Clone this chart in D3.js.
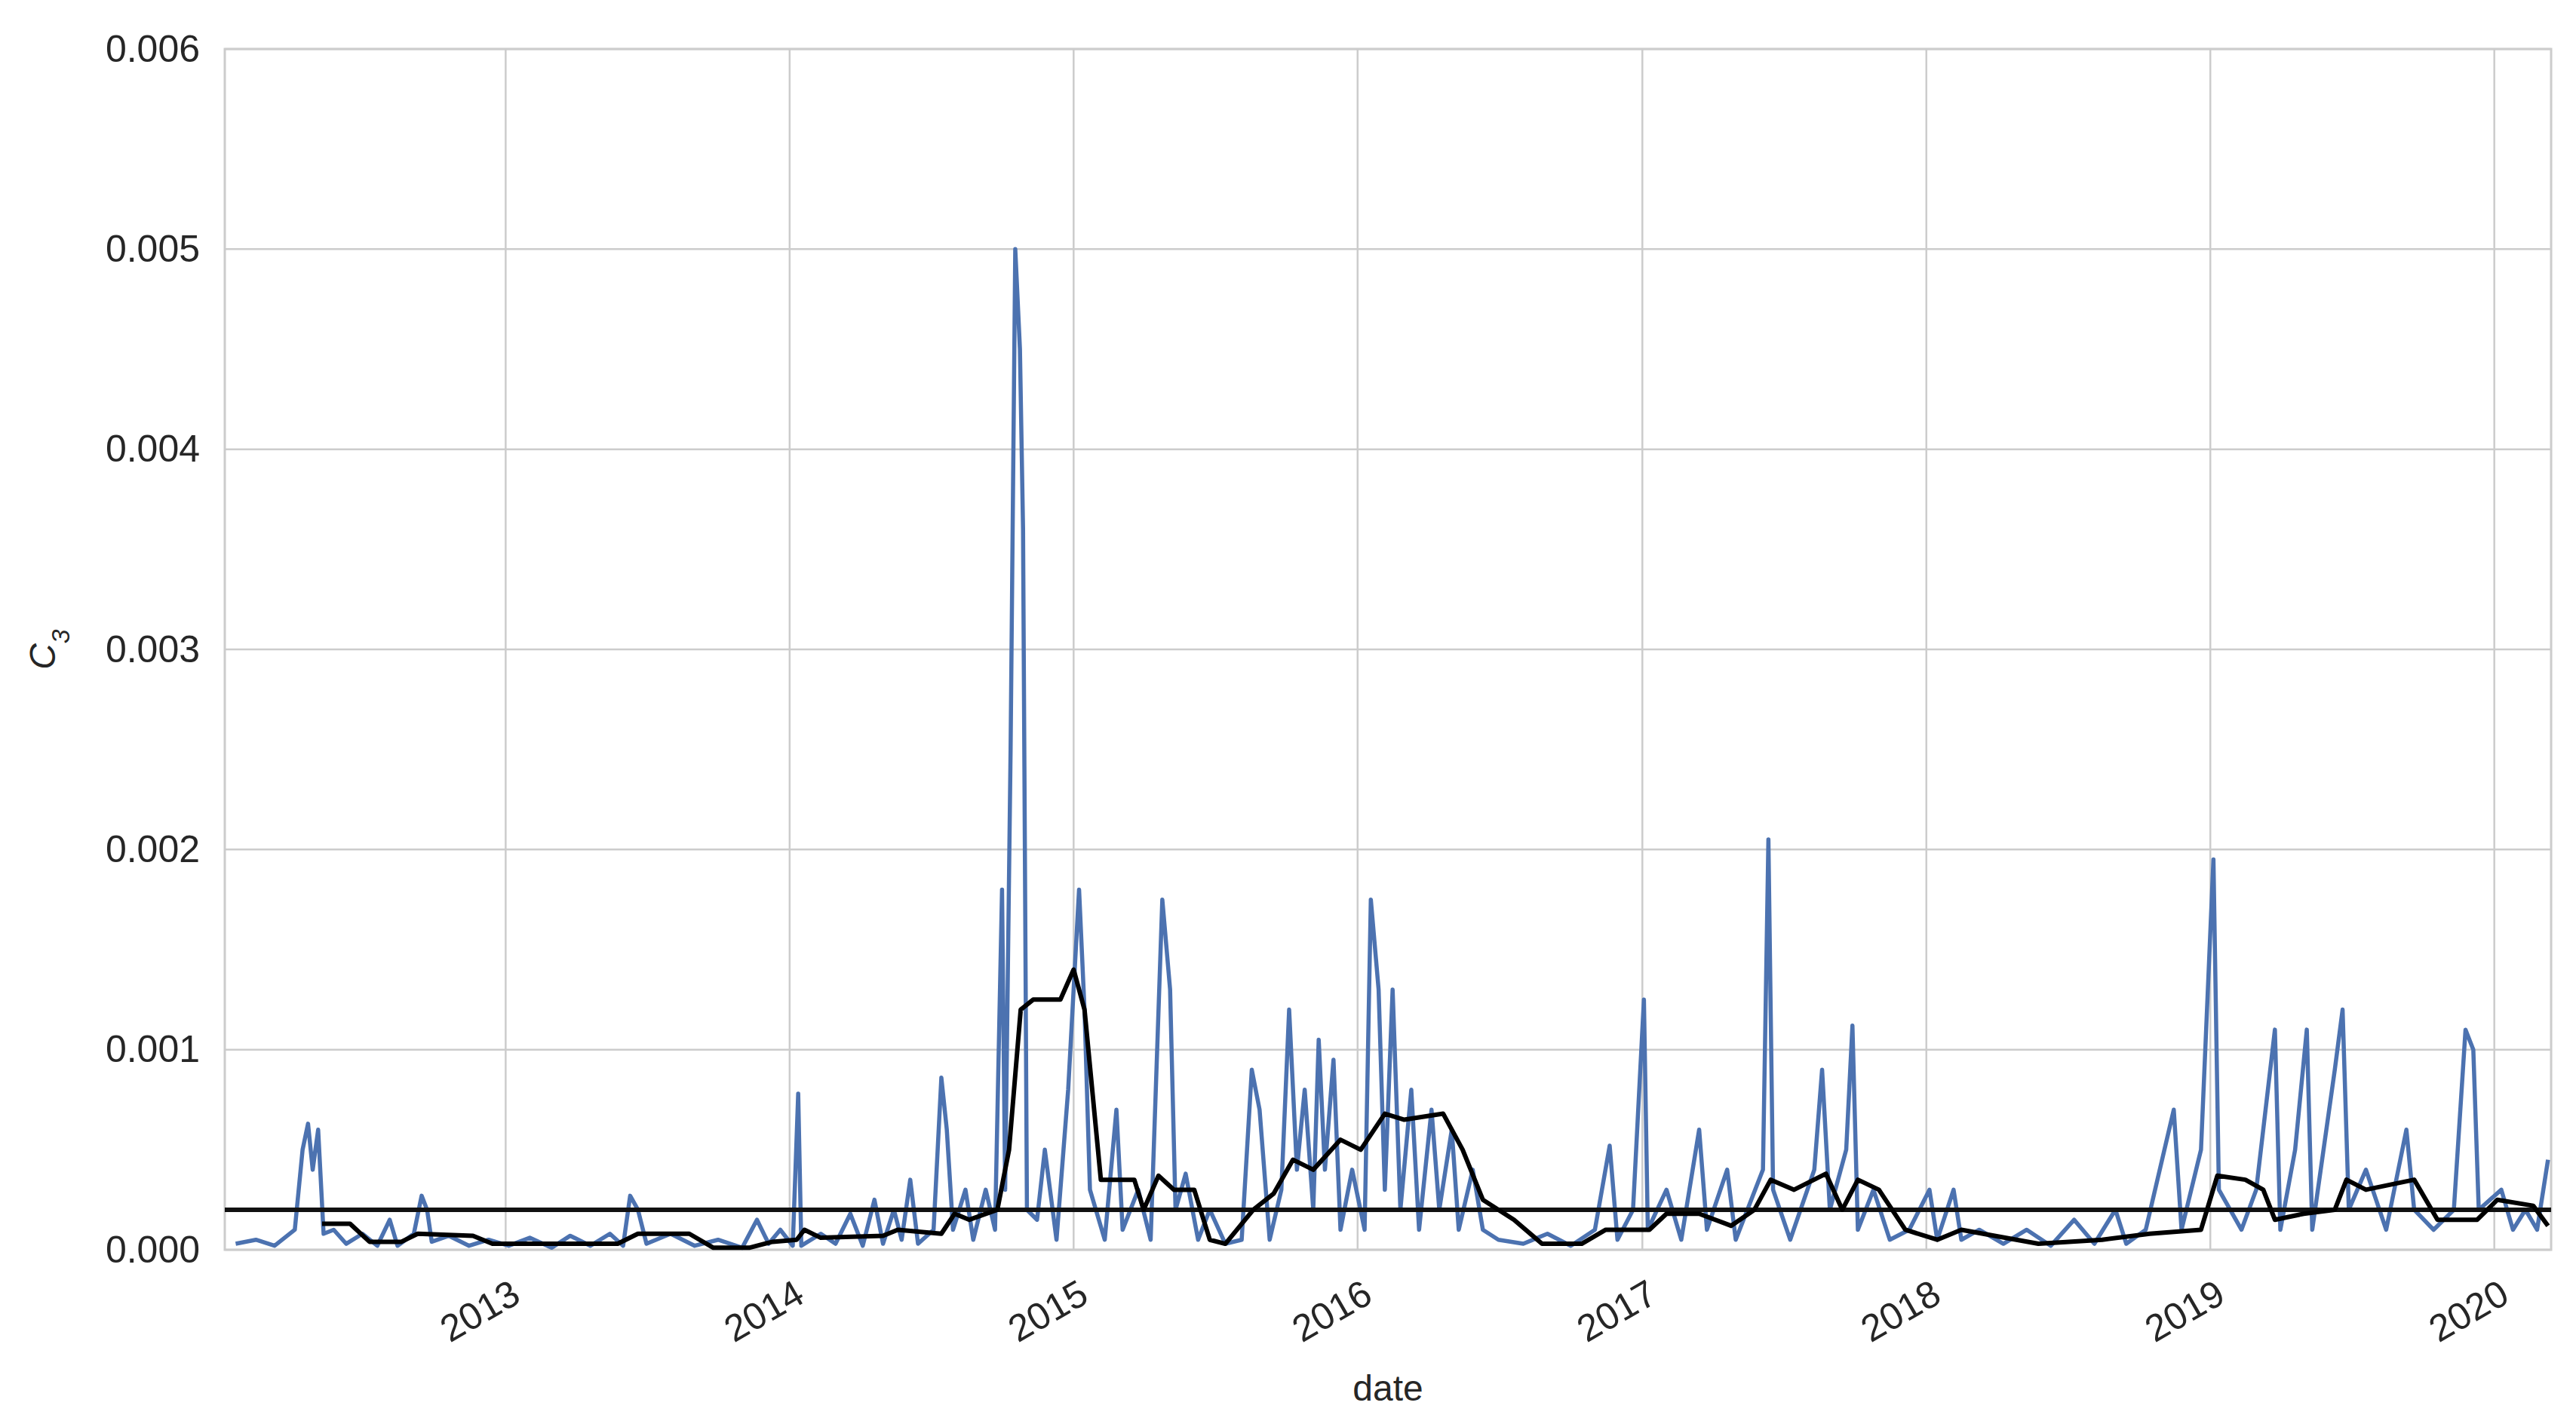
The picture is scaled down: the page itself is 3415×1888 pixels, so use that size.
<!DOCTYPE html>
<html>
<head>
<meta charset="utf-8">
<script src="https://cdn.jsdelivr.net/npm/d3@7"></script>
<style>
  body { margin: 0; background: #fff; }
  text { font-family: "Liberation Sans", Arial, sans-serif; fill: #262626; }
</style>
</head>
<body>
<div id="chart"></div>
<script>
// C3 series (date, value)
const c3Dates = ["2012-01-20","2012-02-15","2012-03-10","2012-04-05","2012-04-15","2012-04-22","2012-04-28","2012-05-05","2012-05-12","2012-05-25","2012-06-10","2012-07-01","2012-07-20","2012-08-05","2012-08-15","2012-09-05","2012-09-15","2012-09-22","2012-09-28","2012-10-20","2012-11-15","2012-12-10","2013-01-05","2013-02-01","2013-03-01","2013-03-25","2013-04-20","2013-05-15","2013-06-01","2013-06-10","2013-06-20","2013-07-01","2013-08-01","2013-09-01","2013-10-01","2013-11-01","2013-11-20","2013-12-05","2013-12-20","2014-01-05","2014-01-12","2014-01-16","2014-02-10","2014-03-01","2014-03-20","2014-04-05","2014-04-20","2014-05-01","2014-05-15","2014-05-25","2014-06-05","2014-06-15","2014-07-05","2014-07-15","2014-07-22","2014-07-30","2014-08-15","2014-08-25","2014-09-10","2014-09-22","2014-10-01","2014-10-05","2014-10-12","2014-10-18","2014-10-24","2014-10-28","2014-11-02","2014-11-15","2014-11-25","2014-12-10","2014-12-25","2015-01-08","2015-01-15","2015-01-22","2015-02-10","2015-02-25","2015-03-05","2015-03-25","2015-04-10","2015-04-25","2015-05-05","2015-05-12","2015-05-25","2015-06-10","2015-06-25","2015-07-15","2015-08-05","2015-08-18","2015-08-28","2015-09-10","2015-09-25","2015-10-05","2015-10-15","2015-10-25","2015-11-05","2015-11-12","2015-11-20","2015-12-01","2015-12-10","2015-12-25","2016-01-10","2016-01-18","2016-01-28","2016-02-05","2016-02-15","2016-02-25","2016-03-10","2016-03-20","2016-04-05","2016-04-15","2016-05-01","2016-05-10","2016-05-28","2016-06-10","2016-06-30","2016-08-01","2016-09-01","2016-10-01","2016-11-01","2016-11-20","2016-11-30","2016-12-20","2017-01-03","2017-01-08","2017-02-01","2017-02-20","2017-03-15","2017-03-25","2017-04-20","2017-05-01","2017-06-05","2017-06-12","2017-06-18","2017-07-10","2017-08-10","2017-08-20","2017-08-30","2017-09-20","2017-09-28","2017-10-05","2017-10-25","2017-11-15","2017-12-10","2018-01-05","2018-01-15","2018-02-05","2018-02-15","2018-03-10","2018-04-10","2018-05-10","2018-06-10","2018-07-10","2018-08-05","2018-09-01","2018-09-15","2018-10-10","2018-11-15","2018-11-25","2018-12-20","2019-01-05","2019-01-12","2019-02-10","2019-03-01","2019-03-25","2019-04-01","2019-04-20","2019-05-05","2019-05-12","2019-06-10","2019-06-20","2019-06-28","2019-07-20","2019-08-15","2019-09-10","2019-09-20","2019-10-15","2019-11-10","2019-11-25","2019-12-05","2019-12-12","2020-01-10","2020-01-25","2020-02-10","2020-02-25","2020-03-10"];
const c3Values = [0.00003,0.00005,0.00002,0.0001,0.0005,0.00063,0.0004,0.0006,0.00008,0.0001,0.00003,0.00008,0.00002,0.00015,0.00002,0.00008,0.00027,0.0002,0.00004,0.00007,0.00002,0.00005,0.00002,0.00006,0.00001,0.00007,0.00002,0.00008,0.00002,0.00027,0.0002,0.00003,0.00008,0.00002,0.00005,0.00001,0.00015,0.00003,0.0001,0.00002,0.00078,0.00002,0.00008,0.00003,0.00018,0.00002,0.00025,0.00003,0.0002,0.00005,0.00035,0.00003,0.0001,0.00086,0.0006,0.0001,0.0003,0.00005,0.0003,0.0001,0.0018,0.0003,0.0025,0.005,0.0045,0.0036,0.0002,0.00015,0.0005,0.00005,0.0008,0.0018,0.0012,0.0003,0.00005,0.0007,0.0001,0.0003,0.00005,0.00175,0.0013,0.0002,0.00038,0.00005,0.0002,0.00003,0.00005,0.0009,0.0007,0.00005,0.0003,0.0012,0.0004,0.0008,0.0002,0.00105,0.0004,0.00095,0.0001,0.0004,0.0001,0.00175,0.0013,0.0003,0.0013,0.0002,0.0008,0.0001,0.0007,0.0002,0.0006,0.0001,0.0004,0.0001,0.00005,0.00003,0.00008,0.00002,0.0001,0.00052,0.00005,0.0002,0.00125,0.0001,0.0003,0.00005,0.0006,0.0001,0.0004,0.00005,0.0004,0.00205,0.0003,0.00005,0.0004,0.0009,0.0002,0.0005,0.00112,0.0001,0.0003,0.00005,0.0001,0.0003,0.00005,0.0003,0.00005,0.0001,0.00003,0.0001,0.00002,0.00015,0.00003,0.0002,0.00003,0.0001,0.0007,0.0001,0.0005,0.00195,0.0003,0.0001,0.0003,0.0011,0.0001,0.0005,0.0011,0.0001,0.0009,0.0012,0.0002,0.0004,0.0001,0.0006,0.0002,0.0001,0.0002,0.0011,0.001,0.0002,0.0003,0.0001,0.0002,0.0001,0.00045];

// rolling mean (black)
const meanDates = ["2012-05-10","2012-06-15","2012-07-10","2012-08-20","2012-09-10","2012-11-20","2012-12-15","2013-05-25","2013-06-20","2013-08-25","2013-09-25","2013-11-10","2013-12-10","2014-01-10","2014-01-20","2014-02-10","2014-05-01","2014-05-20","2014-07-15","2014-08-01","2014-08-20","2014-09-25","2014-10-10","2014-10-25","2014-11-10","2014-12-15","2015-01-01","2015-01-15","2015-02-05","2015-03-20","2015-04-01","2015-04-20","2015-05-10","2015-06-05","2015-06-25","2015-07-15","2015-08-20","2015-09-15","2015-10-10","2015-11-05","2015-12-10","2016-01-05","2016-02-05","2016-03-01","2016-04-20","2016-05-15","2016-06-10","2016-07-20","2016-08-25","2016-10-15","2016-11-15","2017-01-10","2017-02-01","2017-03-15","2017-04-25","2017-05-25","2017-06-15","2017-07-15","2017-08-25","2017-09-15","2017-10-05","2017-11-01","2017-12-05","2018-01-15","2018-02-15","2018-03-15","2018-05-25","2018-08-15","2018-10-15","2018-12-20","2019-01-10","2019-02-15","2019-03-10","2019-03-25","2019-05-01","2019-06-10","2019-06-25","2019-07-20","2019-09-20","2019-10-20","2019-12-10","2020-01-05","2020-02-20","2020-03-10"];
const meanValues = [0.00013,0.00013,0.00004,0.00004,0.00008,0.00007,0.00003,0.00003,0.00008,0.00008,0.00001,0.00001,0.00004,0.00005,0.0001,0.00006,0.00007,0.0001,0.00008,0.00018,0.00015,0.0002,0.0005,0.0012,0.00125,0.00125,0.0014,0.0012,0.00035,0.00035,0.0002,0.00037,0.0003,0.0003,0.00005,0.00003,0.0002,0.00028,0.00045,0.0004,0.00055,0.0005,0.00068,0.00065,0.00068,0.0005,0.00025,0.00015,0.00003,0.00003,0.0001,0.0001,0.00018,0.00018,0.00012,0.0002,0.00035,0.0003,0.00038,0.0002,0.00035,0.0003,0.0001,0.00005,0.0001,0.00008,0.00003,0.00005,0.00008,0.0001,0.00037,0.00035,0.0003,0.00015,0.00018,0.0002,0.00035,0.0003,0.00035,0.00015,0.00015,0.00025,0.00022,0.00012];

const threshold = 0.0002;
const yTicks = [0, 0.001, 0.002, 0.003, 0.004, 0.005, 0.006];
const xTickYears = [2013, 2014, 2015, 2016, 2017, 2018, 2019, 2020];

const W = 3415, H = 1888;
const margin = { top: 65, right: 33, bottom: 231, left: 298 };
const width = W - margin.left - margin.right;
const height = H - margin.top - margin.bottom;
const parse = d3.timeParse("%Y-%m-%d");

const svg = d3.select('#chart').append('svg')
  .attr('width', W).attr('height', H)
  .append('g')
  .attr('transform', `translate(${margin.left},${margin.top})`);

const x = d3.scaleTime()
  .domain([parse("2012-01-06"), parse("2020-03-14")])
  .range([0, width]);
const y = d3.scaleLinear().domain([0, 0.006]).range([height, 0]);

// grid
svg.append('g').selectAll('line.v')
  .data(xTickYears).enter().append('line')
  .attr('x1', d => x(new Date(d, 0, 1))).attr('x2', d => x(new Date(d, 0, 1)))
  .attr('y1', 0).attr('y2', height)
  .attr('stroke', '#cccccc').attr('stroke-width', 2.5);
svg.append('g').selectAll('line.h')
  .data(yTicks).enter().append('line')
  .attr('x1', 0).attr('x2', width)
  .attr('y1', d => y(d)).attr('y2', d => y(d))
  .attr('stroke', '#cccccc').attr('stroke-width', 2.5);
svg.append('rect').attr('width', width).attr('height', height)
  .attr('fill', 'none').attr('stroke', '#cccccc').attr('stroke-width', 3);

// y axis labels
const yAxis = svg.append('g')
  .call(d3.axisLeft(y).tickValues(yTicks).tickFormat(d3.format('.3f')).tickSize(0).tickPadding(33));
yAxis.select('.domain').remove();
yAxis.selectAll('text').style('font-size', '50px').attr('fill', '#262626');

// x axis labels
const xAxis = svg.append('g')
  .attr('transform', `translate(0,${height})`)
  .call(d3.axisBottom(x).tickValues(xTickYears.map(d => new Date(d, 0, 1)))
    .tickFormat(d3.timeFormat('%Y')).tickSize(0).tickPadding(20));
xAxis.select('.domain').remove();
xAxis.selectAll('text')
  .style('font-size', '50px').attr('fill', '#262626')
  .style('text-anchor', 'end')
  .attr('dx', '-0.3em').attr('dy', '1em')
  .attr('transform', 'rotate(-30)');

// lines
const line = d3.line().x(d => x(d[0])).y(d => y(d[1]));
const c3Data = c3Dates.map((d, i) => [parse(d), c3Values[i]]);
const meanData = meanDates.map((d, i) => [parse(d), meanValues[i]]);

svg.append('path').datum(c3Data)
  .attr('d', line).attr('fill', 'none')
  .attr('stroke', '#4c72b0').attr('stroke-width', 5.5)
  .attr('stroke-linejoin', 'round');

svg.append('line')
  .attr('x1', 0).attr('x2', width)
  .attr('y1', y(threshold)).attr('y2', y(threshold))
  .attr('stroke', '#111').attr('stroke-width', 6);

svg.append('path').datum(meanData)
  .attr('d', line).attr('fill', 'none')
  .attr('stroke', '#000').attr('stroke-width', 6)
  .attr('stroke-linejoin', 'round');

// axis titles
svg.append('text')
  .attr('x', width / 2).attr('y', height + 200)
  .attr('text-anchor', 'middle').style('font-size', '48px')
  .text('date');

svg.append('text')
  .attr('transform', `translate(${-225},${height / 2}) rotate(-90)`)
  .attr('text-anchor', 'middle').style('font-size', '48px')
  .style('font-style', 'italic')
  .html('C<tspan baseline-shift="sub" font-size="34px">3</tspan>');
</script>
</body>
</html>
